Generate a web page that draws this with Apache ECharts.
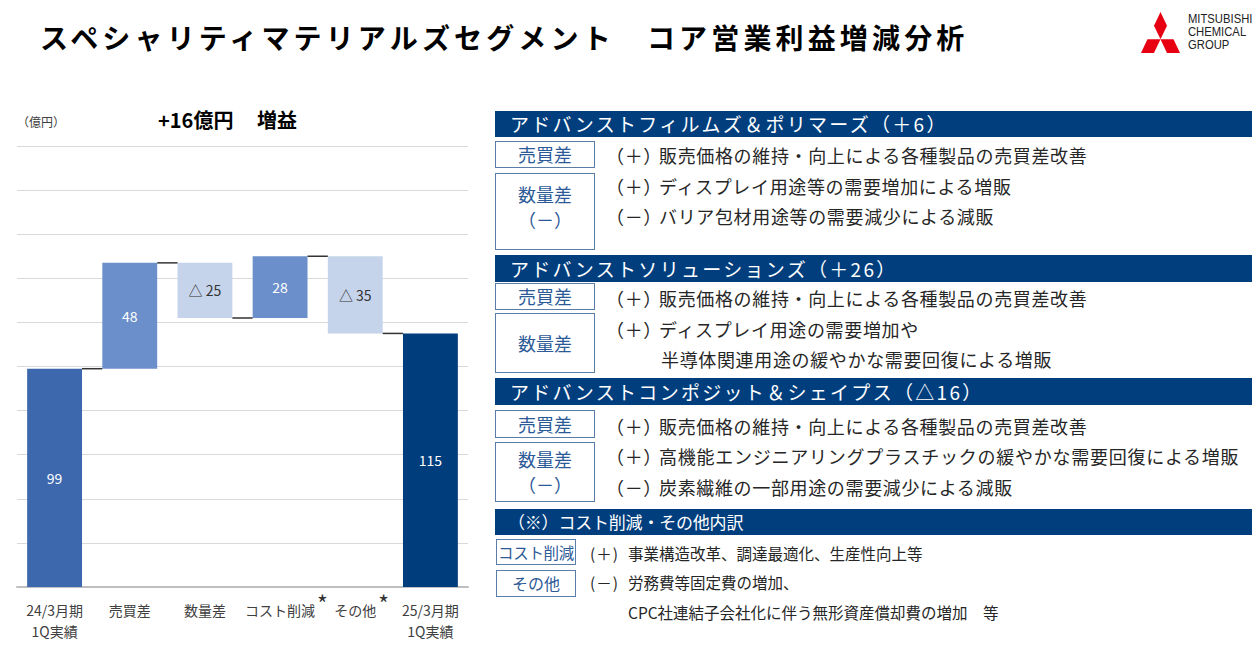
<!DOCTYPE html>
<html>
<head>
<meta charset="utf-8">
<script src="https://cdn.jsdelivr.net/npm/echarts@6/dist/echarts.min.js"></script>
<style>
  html, body { margin:0; padding:0; background:#fff; }
  body { width:1256px; height:662px; position:relative; overflow:hidden;
         font-family:"Noto Sans CJK JP","Noto Sans",sans-serif; color:#262626; }
  .abs { position:absolute; white-space:nowrap; }
  #title { left:40px; top:15px; font-size:28px; font-weight:bold; letter-spacing:4.15px; color:#000; line-height:44px; }
  #chart { position:absolute; left:0; top:0; width:480px; height:662px; }
  .hdr { position:absolute; left:495px; width:757px; background:#003E7E; color:#fff; white-space:nowrap;
         font-size:19px; letter-spacing:2.3px; box-sizing:border-box; padding-left:15px; }
  .box { position:absolute; box-sizing:border-box; border:1.5px solid #5A7DA8; color:#2C5A97; white-space:nowrap;
         font-size:18px; text-align:center; display:flex; flex-direction:column; justify-content:center; align-items:center; line-height:25px; }
  .row { position:absolute; font-size:18px; letter-spacing:0.65px; line-height:24px; white-space:nowrap; color:#262626; }
  .row2 { position:absolute; font-size:15.5px; letter-spacing:0px; line-height:22px; white-space:nowrap; color:#262626; }
  .logo-t { position:absolute; left:1188px; font-family:"Liberation Sans",Arial,sans-serif; font-size:12.5px;
            color:#222; transform:scaleX(0.9); transform-origin:left center; line-height:13px; }
</style>
</head>
<body>
<div id="title" class="abs">スペシャリティマテリアルズセグメント　コア営業利益増減分析</div>

<svg class="abs" style="left:0;top:0" width="1256" height="70">
  <g transform="translate(1160.5,12) scale(0.94,1.14) translate(-1160,-12)">
    <polygon points="1160,36 1166.93,24 1160,12 1153.07,24" fill="#E60012"/>
    <polygon points="1160,36 1173.86,36 1180.78,48 1166.93,48" fill="#E60012"/>
    <polygon points="1160,36 1146.14,36 1139.22,48 1153.07,48" fill="#E60012"/>
  </g>
</svg>
<div class="logo-t" style="top:13px">MITSUBISHI</div>
<div class="logo-t" style="top:26px">CHEMICAL</div>
<div class="logo-t" style="top:39px">GROUP</div>

<div id="chart"></div>

<!-- Right panel -->
<div class="hdr" style="top:111px;height:26px;line-height:26px;">アドバンストフィルムズ＆ポリマーズ（＋6）</div>
<div class="box" style="left:495px;top:141px;width:100px;height:27px;">売買差</div>
<div class="box" style="left:495px;top:173px;width:100px;height:77px;padding-bottom:10px;"><div>数量差</div><div>（－）</div></div>
<div class="row" style="left:606px;top:143px;">（＋）</div><div class="row" style="left:659px;top:143px;">販売価格の維持・向上による各種製品の売買差改善</div>
<div class="row" style="left:606px;top:174px;">（＋）</div><div class="row" style="left:659px;top:174px;">ディスプレイ用途等の需要増加による増販</div>
<div class="row" style="left:606px;top:204px;">（－）</div><div class="row" style="left:659px;top:204px;">バリア包材用途等の需要減少による減販</div>

<div class="hdr" style="top:255px;height:27px;line-height:27px;">アドバンストソリューションズ（＋26）</div>
<div class="box" style="left:495px;top:283px;width:100px;height:27px;">売買差</div>
<div class="box" style="left:495px;top:313px;width:100px;height:60px;">数量差</div>
<div class="row" style="left:606px;top:286px;">（＋）</div><div class="row" style="left:659px;top:286px;">販売価格の維持・向上による各種製品の売買差改善</div>
<div class="row" style="left:606px;top:317px;">（＋）</div><div class="row" style="left:659px;top:317px;">ディスプレイ用途の需要増加や</div>
<div class="row" style="left:661px;top:347px;">半導体関連用途の緩やかな需要回復による増販</div>

<div class="hdr" style="top:378px;height:27px;line-height:27px;">アドバンストコンポジット＆シェイプス（△16）</div>
<div class="box" style="left:495px;top:410px;width:100px;height:28px;">売買差</div>
<div class="box" style="left:495px;top:442px;width:100px;height:60px;"><div>数量差</div><div>（－）</div></div>
<div class="row" style="left:606px;top:414px;">（＋）</div><div class="row" style="left:659px;top:414px;">販売価格の維持・向上による各種製品の売買差改善</div>
<div class="row" style="left:606px;top:444px;">（＋）</div><div class="row" style="left:659px;top:444px;letter-spacing:0.75px;">高機能エンジニアリングプラスチックの緩やかな需要回復による増販</div>
<div class="row" style="left:606px;top:475px;">（－）</div><div class="row" style="left:659px;top:475px;">炭素繊維の一部用途の需要減少による減販</div>

<div class="hdr" style="top:509px;height:26px;line-height:26px;font-size:17px;letter-spacing:-0.2px;padding-left:13px;">（※）コスト削減・その他内訳</div>
<div class="box" style="left:496px;top:539px;width:80px;height:26px;font-size:15.5px;letter-spacing:-0.3px;">コスト削減</div>
<div class="box" style="left:496px;top:570px;width:80px;height:27px;font-size:16px;">その他</div>
<div class="row2" style="left:590px;top:542px;letter-spacing:1px;">(＋)</div><div class="row2" style="left:628px;top:542px;">事業構造改革、調達最適化、生産性向上等</div>
<div class="row2" style="left:590px;top:571px;letter-spacing:1px;">(－)</div><div class="row2" style="left:628px;top:571px;">労務費等固定費の増加、</div>
<div class="row2" style="left:628px;top:601px;">CPC社連結子会社化に伴う無形資産償却費の増加　等</div>

<script>
// ---- chart data ----
const categories = ['24/3月期\n1Q実績', '売買差', '数量差', 'コスト削減', 'その他', '25/3月期\n1Q実績'];
const startValue = 99;
const deltas = [48, -25, 28, -35];
const endValue = 115;
const valueLabels = ['99', '48', '△ 25', '28', '△ 35', '115'];
const asterisked = [false, false, false, true, true, false];
const yMin = 0, yMax = 200, yInterval = 20;

// ---- derive waterfall stacks ----
const bases = [0], heights = [startValue], levels = [startValue];
let running = startValue;
deltas.forEach(d => {
  if (d >= 0) { bases.push(running); heights.push(d); }
  else { bases.push(running + d); heights.push(-d); }
  running += d;
  levels.push(running);
});
bases.push(0); heights.push(endValue);
const connectors = levels.map((lv, i) => [i, lv]);

const barColors = ['#3E68AE', '#6B8FCA', '#C6D4EB', '#6B8FCA', '#C6D4EB', '#003D7C'];
const labelColors = ['#fff', '#fff', '#333', '#fff', '#333', '#fff'];
const BAR_FRAC = 0.73;
const FONT = '"Noto Sans CJK JP","Noto Sans",sans-serif';
const LABEL_SIZE = 14;

const baseGraphic = [
  { id: 'unit', type: 'text', left: 17, top: 115, style: { text: '（億円）', fontSize: 12, fill: '#404040', fontFamily: FONT } },
  { id: 't1', type: 'text', left: 158, top: 109, style: { text: '+16億円', fontSize: 20, fontWeight: 'bold', fill: '#000', fontFamily: FONT } },
  { id: 't2', type: 'text', left: 257, top: 109, style: { text: '増益', fontSize: 20, fontWeight: 'bold', fill: '#000', fontFamily: FONT } }
];

const chart = echarts.init(document.getElementById('chart'), null, { renderer: 'svg' });
chart.setOption({
  animation: false,
  textStyle: { fontFamily: FONT },
  graphic: baseGraphic,
  grid: { left: 17, right: 12, top: 146, bottom: 75, containLabel: false },
  xAxis: {
    type: 'category', data: categories,
    axisLine: { lineStyle: { color: '#BFBFBF', width: 2 } },
    axisTick: { show: false },
    axisLabel: { interval: 0, fontSize: LABEL_SIZE, color: '#404040', lineHeight: 21, margin: 12 }
  },
  yAxis: {
    type: 'value', min: yMin, max: yMax, interval: yInterval,
    axisLabel: { show: false }, axisLine: { show: false }, axisTick: { show: false },
    splitLine: { lineStyle: { color: '#D9D9D9', width: 1 } }
  },
  series: [
    { type: 'bar', stack: 'w', data: bases, itemStyle: { color: 'rgba(0,0,0,0)' }, silent: true,
      barWidth: (BAR_FRAC * 100) + '%' },
    { type: 'bar', stack: 'w', barWidth: (BAR_FRAC * 100) + '%',
      data: heights.map((h, i) => ({ value: h, itemStyle: { color: barColors[i] },
        label: { color: labelColors[i] } })),
      label: { show: true, position: 'inside', fontSize: 14,
        formatter: p => valueLabels[p.dataIndex] } },
    { type: 'custom', data: connectors, encode: { x: 0, y: 1 }, silent: true, z: 5,
      renderItem: (params, api) => {
        const i = api.value(0), lv = api.value(1);
        const p1 = api.coord([i, lv]);
        const p2 = api.coord([i + 1, lv]);
        const bw = api.size([1, 0])[0] * BAR_FRAC;
        return { type: 'line',
          shape: { x1: p1[0] + bw / 2, y1: p1[1], x2: p2[0] - bw / 2, y2: p2[1] },
          style: { stroke: '#333', lineWidth: 1.5 } };
      } }
  ]
});

// asterisk markers next to category labels, placed through the axis scale
const ctx = document.createElement('canvas').getContext('2d');
ctx.font = LABEL_SIZE + 'px ' + FONT;
const axisY = chart.convertToPixel({ yAxisIndex: 0 }, yMin);
const stars = [];
categories.forEach((c, i) => {
  if (!asterisked[i]) return;
  const cx = chart.convertToPixel({ xAxisIndex: 0 }, i);
  const w = ctx.measureText(c).width;
  stars.push({ id: 'star' + i, type: 'text', x: cx + w / 2 + 2, y: axisY + 4,
    style: { text: '*', fontSize: 23, fill: '#333', fontFamily: FONT } });
});
chart.setOption({ graphic: baseGraphic.concat(stars) });
</script>
</body>
</html>
